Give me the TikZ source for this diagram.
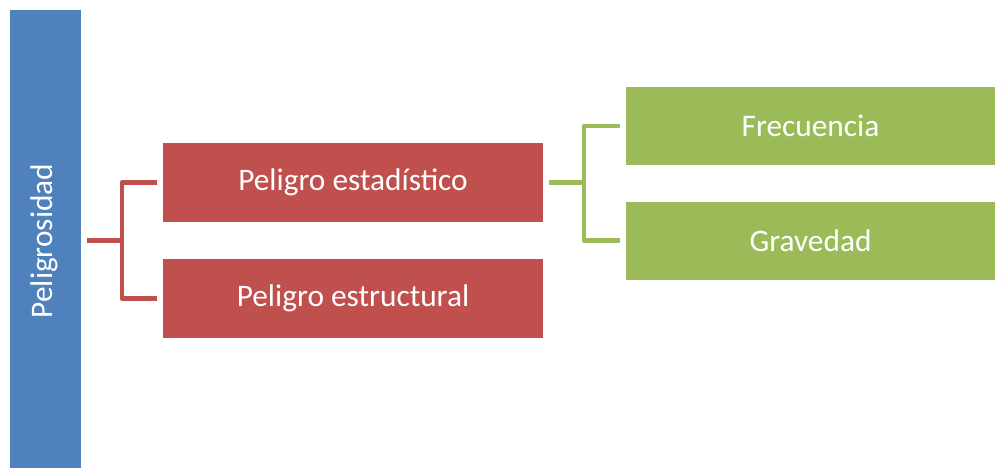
\documentclass[tikz,border=0pt]{standalone}
\usepackage{fontspec}
\setmainfont{Carlito}
\definecolor{cblue}{HTML}{4F81BD}
\definecolor{cred}{HTML}{C0504D}
\definecolor{cgreen}{HTML}{9BBB59}
\begin{document}
\begin{tikzpicture}[x=0.75pt,y=-0.75pt,
  box/.style={draw=none,inner sep=0pt,text=white,font=\fontsize{23.5}{28}\selectfont},
  redbox/.style={box,fill=cred,minimum width=285pt,minimum height=59.25pt},
  greenbox/.style={box,fill=cgreen,minimum width=276.75pt,minimum height=58.5pt},
  rline/.style={draw=cred,line width=3.5pt,line join=round},
  gline/.style={draw=cgreen,line width=3.5pt,line join=round}]
\useasboundingbox (0,0) rectangle (995,468);
\node[box,fill=cblue,minimum width=53.25pt,minimum height=343.5pt] (blue) at (45.5,239) {};
\node[box,rotate=90] (bluetext) at (44,241) {Peligrosidad};
\node[redbox] (r1) at (353,182.5) {Peligro estadístico};
\node[redbox] (r2) at (353,298.5) {Peligro estructural};
\node[greenbox] (g1) at (810.5,126) {Frecuencia};
\node[greenbox] (g2) at (810.5,240.5) {Gravedad};
\coordinate (rj) at (122,240.5);
\coordinate (gj) at (584,182.5);
\draw[rline] ([xshift=4.5pt]blue.east |- rj) -- (rj);
\draw[rline] ([xshift=-4pt]r1.west) -| (rj) |- ([xshift=-4pt]r2.west);
\draw[gline] ([xshift=4.5pt]r1.east) -- (gj);
\draw[gline] ([xshift=-4.5pt]g1.west) -| (gj) |- ([xshift=-4.5pt]g2.west);
\end{tikzpicture}
\end{document}
